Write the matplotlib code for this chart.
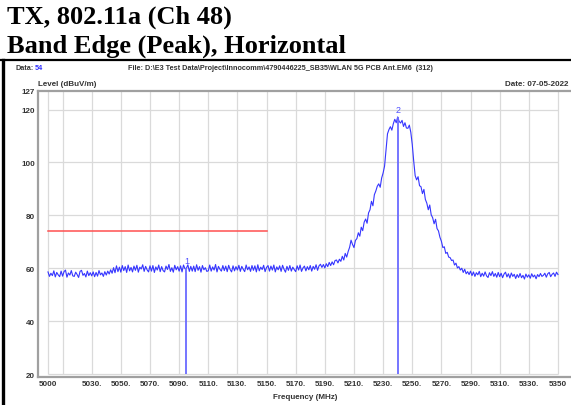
import matplotlib.pyplot as plt
import numpy as np
from matplotlib.lines import Line2D

# trace, 1 MHz steps from 5000 to 5350
freq_start = 5000
freq_step = 1
level = [
    58.6, 56.9, 58.1, 57.2, 59.0, 56.7, 58.4, 57.5, 56.8, 58.9,
    57.0, 58.7, 59.3, 56.6, 58.2, 57.4, 59.1, 57.1, 56.9, 58.5,
    57.6, 56.5, 58.8, 59.2, 57.3, 58.0, 56.7, 58.9, 57.2, 58.3,
    57.1, 58.6, 56.8, 58.4, 57.0, 59.1, 57.5, 58.2, 56.9, 58.7,
    57.4, 58.9, 57.8, 59.4, 58.1, 60.2, 58.3, 60.9, 58.7, 60.4,
    58.5, 61.0, 59.1, 60.6, 58.4, 61.2, 59.0, 60.3, 58.6, 60.8,
    59.2, 61.1, 58.5, 60.4, 59.7, 61.3, 58.8, 60.7, 59.4, 58.6,
    60.9, 58.9, 61.0, 58.4, 60.5, 59.3, 61.2, 58.7, 60.6, 59.1,
    58.6, 60.8, 59.5, 61.4, 58.8, 60.2, 58.5, 61.1, 59.4, 60.6,
    58.9, 60.9, 58.6, 61.2, 59.8, 60.0, 61.3, 58.8, 60.7, 58.9,
    60.8, 58.7, 61.3, 59.2, 60.6, 58.5, 61.0, 59.4, 60.2, 58.8,
    59.0, 61.2, 58.9, 60.5, 59.3, 61.4, 58.6, 60.7, 59.6, 58.9,
    61.0, 59.1, 60.8, 58.7, 61.1, 59.5, 58.6, 60.9, 59.0, 60.6,
    59.3, 61.1, 58.8, 60.7, 59.6, 58.7, 61.2, 59.4, 60.5, 58.8,
    61.0, 59.2, 60.9, 58.6, 61.3, 59.0, 60.4, 59.5, 61.1, 58.7,
    60.3, 61.0, 58.9, 60.8, 59.3, 61.2, 58.6, 60.5, 59.4, 60.9,
    58.8, 61.1, 59.6, 58.5, 60.7, 59.2, 61.0, 58.9, 60.4, 59.5,
    58.7, 60.9, 59.3, 61.2, 58.8, 60.1, 60.8, 59.0, 60.6, 59.4,
    61.0, 58.9, 60.7, 59.6, 61.3, 59.2, 60.9, 61.5, 60.3, 61.4,
    60.1, 61.7, 60.6, 62.2, 61.0, 62.4, 61.3, 62.9, 63.1, 62.0,
    63.4, 62.6, 64.5, 63.1, 65.6, 64.2, 66.3, 67.9, 70.6, 69.0,
    67.8, 70.5, 71.2, 73.4, 72.1, 75.5, 74.2, 77.4, 78.6, 77.0,
    80.9, 82.1, 85.3, 83.6, 87.8, 89.2, 91.0, 91.9, 90.6, 94.1,
    96.0, 98.6, 104.5, 110.8, 112.4, 113.5, 112.2, 114.6, 116.3, 115.0,
    117.2, 115.5, 114.9, 115.9, 113.6, 115.0, 113.0, 112.9, 114.1, 111.4,
    106.8, 100.5, 95.0, 93.4, 94.6, 91.2, 90.8, 88.2, 89.8, 86.0,
    84.6, 82.1, 83.9, 80.2, 79.1, 76.8, 78.5, 75.0, 74.1, 71.7,
    70.2, 67.8, 68.1, 65.6, 66.0, 64.2, 64.0, 62.9, 63.1, 61.2,
    61.9, 60.1, 60.6, 59.3, 60.0, 58.4, 59.6, 57.9, 58.7, 57.6,
    58.9, 57.2, 58.6, 56.9, 58.3, 57.5, 58.8, 56.8, 58.1, 57.0,
    58.6, 57.1, 56.5, 58.3, 57.2, 58.7, 56.9, 58.0, 56.6, 58.4,
    56.8, 58.1, 56.4, 57.8, 58.5, 56.7, 57.9, 56.3, 58.2, 56.9,
    57.7, 56.1, 57.6, 56.5, 58.0, 56.4, 57.3, 55.9, 57.8, 56.6,
    57.5, 56.2, 57.9, 56.7, 57.4, 56.0, 57.6, 56.8, 58.0, 56.9,
    57.3, 58.1, 56.6, 57.9, 58.4, 56.8, 57.7, 58.2, 56.9, 58.5,
    57.6,
]
freq = freq_start + freq_step * np.arange(len(level))

limit_freq = [5000, 5150]
limit_level = [74, 74]

marker_names = ["1", "2"]
marker_freq = [5095, 5240]

xtick_vals = [5000, 5030, 5050, 5070, 5090, 5110, 5130, 5150, 5170, 5190,
              5210, 5230, 5250, 5270, 5290, 5310, 5330, 5350]
xtick_labels = ["5000"] + [f"{v}." for v in xtick_vals[1:-1]] + ["5350"]
ytick_vals = [20, 40, 60, 80, 100, 120, 127]
xgrid = list(range(5010, 5331, 20))
ygrid = [40, 60, 80, 100, 120]

sans = ["Liberation Sans", "DejaVu Sans"]
fs = 5.2
tfs = 5.8
tc = "#333333"
W, H = 571, 406
fig = plt.figure(figsize=(W / 100, H / 100), dpi=100)

def px(x, y):
    return x / W, 1 - y / H

# title
fig.text(*px(7, 17), "TX, 802.11a (Ch 48)", family="Liberation Serif",
         weight="bold", fontsize=19, va="center", ha="left")
fig.text(*px(7, 46), "Band Edge (Peak), Horizontal", family="Liberation Serif",
         weight="bold", fontsize=19, va="center", ha="left")

# frame lines of the table cell
fig.add_artist(Line2D([0, 1], [1 - 61 / H] * 2, color="black", lw=1.6))
fig.add_artist(Line2D([3 / W] * 2, [0, 1 - 61 / H], color="black", lw=2.4))

# header texts
fig.text(*px(16, 68), "Data:", family=sans, fontsize=fs, color=tc,
         va="center", weight="bold")
fig.text(*px(35, 68), "54", family=sans, fontsize=fs, color="#3030ff",
         va="center", weight="bold")
fig.text(*px(128, 68),
         "File: D:\\E3 Test Data\\Project\\Innocomm\\4790446225_SB35\\WLAN 5G PCB Ant.EM6  (312)",
         family=sans, fontsize=fs, color=tc, va="center", weight="bold")
fig.text(*px(568, 84), "Date: 07-05-2022", family=sans, fontsize=tfs,
         color=tc, va="center", ha="right", weight="bold")
fig.text(*px(38, 84), "Level (dBuV/m)", family=sans, fontsize=tfs,
         color=tc, va="center", weight="bold")

ax = fig.add_axes([38 / W, 28 / H, 1 - 38 / W, (378 - 92) / H])
x_lo = 5000 - 10 / 1.457
x_hi = 5000 + (571 - 48) / 1.457
ax.set_xlim(x_lo, x_hi)
ax.set_ylim(20 - 3 / 2.65, 127)

for s in ["left", "top", "bottom"]:
    ax.spines[s].set_color("#a0a0a0")
    ax.spines[s].set_linewidth(1.6)
ax.spines["right"].set_visible(False)

gc = "#dadada"
ax.vlines(xgrid, 20, 127, color=gc, lw=0.9, zorder=1)
ax.vlines([5000, 5350], 20, 127, color=gc, lw=0.9, zorder=1)
ax.hlines(ygrid + [20], 5000, 5350, color=gc, lw=0.9, zorder=1)

ax.set_xticks(xtick_vals)
ax.set_xticklabels(xtick_labels, family=sans, fontsize=tfs,
                   color=tc, weight="bold")
ax.set_yticks(ytick_vals)
ax.set_yticklabels([str(v) for v in ytick_vals], family=sans, fontsize=tfs,
                   color=tc, weight="bold")
ax.tick_params(length=0, pad=2)
ax.set_xlabel("Frequency (MHz)", family=sans, fontsize=tfs, color=tc,
              weight="bold")
ax.xaxis.set_label_coords((305 - 38) / (W - 38), -0.055)

ax.plot(limit_freq, limit_level, color="#ff5050", lw=1.1, zorder=3)
ax.plot(freq, level, color="#3535ff", lw=0.8, zorder=4)

for name, f in zip(marker_names, marker_freq):
    lv = np.interp(f, freq, level)
    ax.vlines(f, 20, lv, color="#6a6aff", lw=1.3, zorder=5)
    ax.text(f, lv + 1.2, name, ha="center", va="bottom", fontsize=6.5,
            color="#5050ff", family=sans)

fig.savefig("out.png", dpi=100)
